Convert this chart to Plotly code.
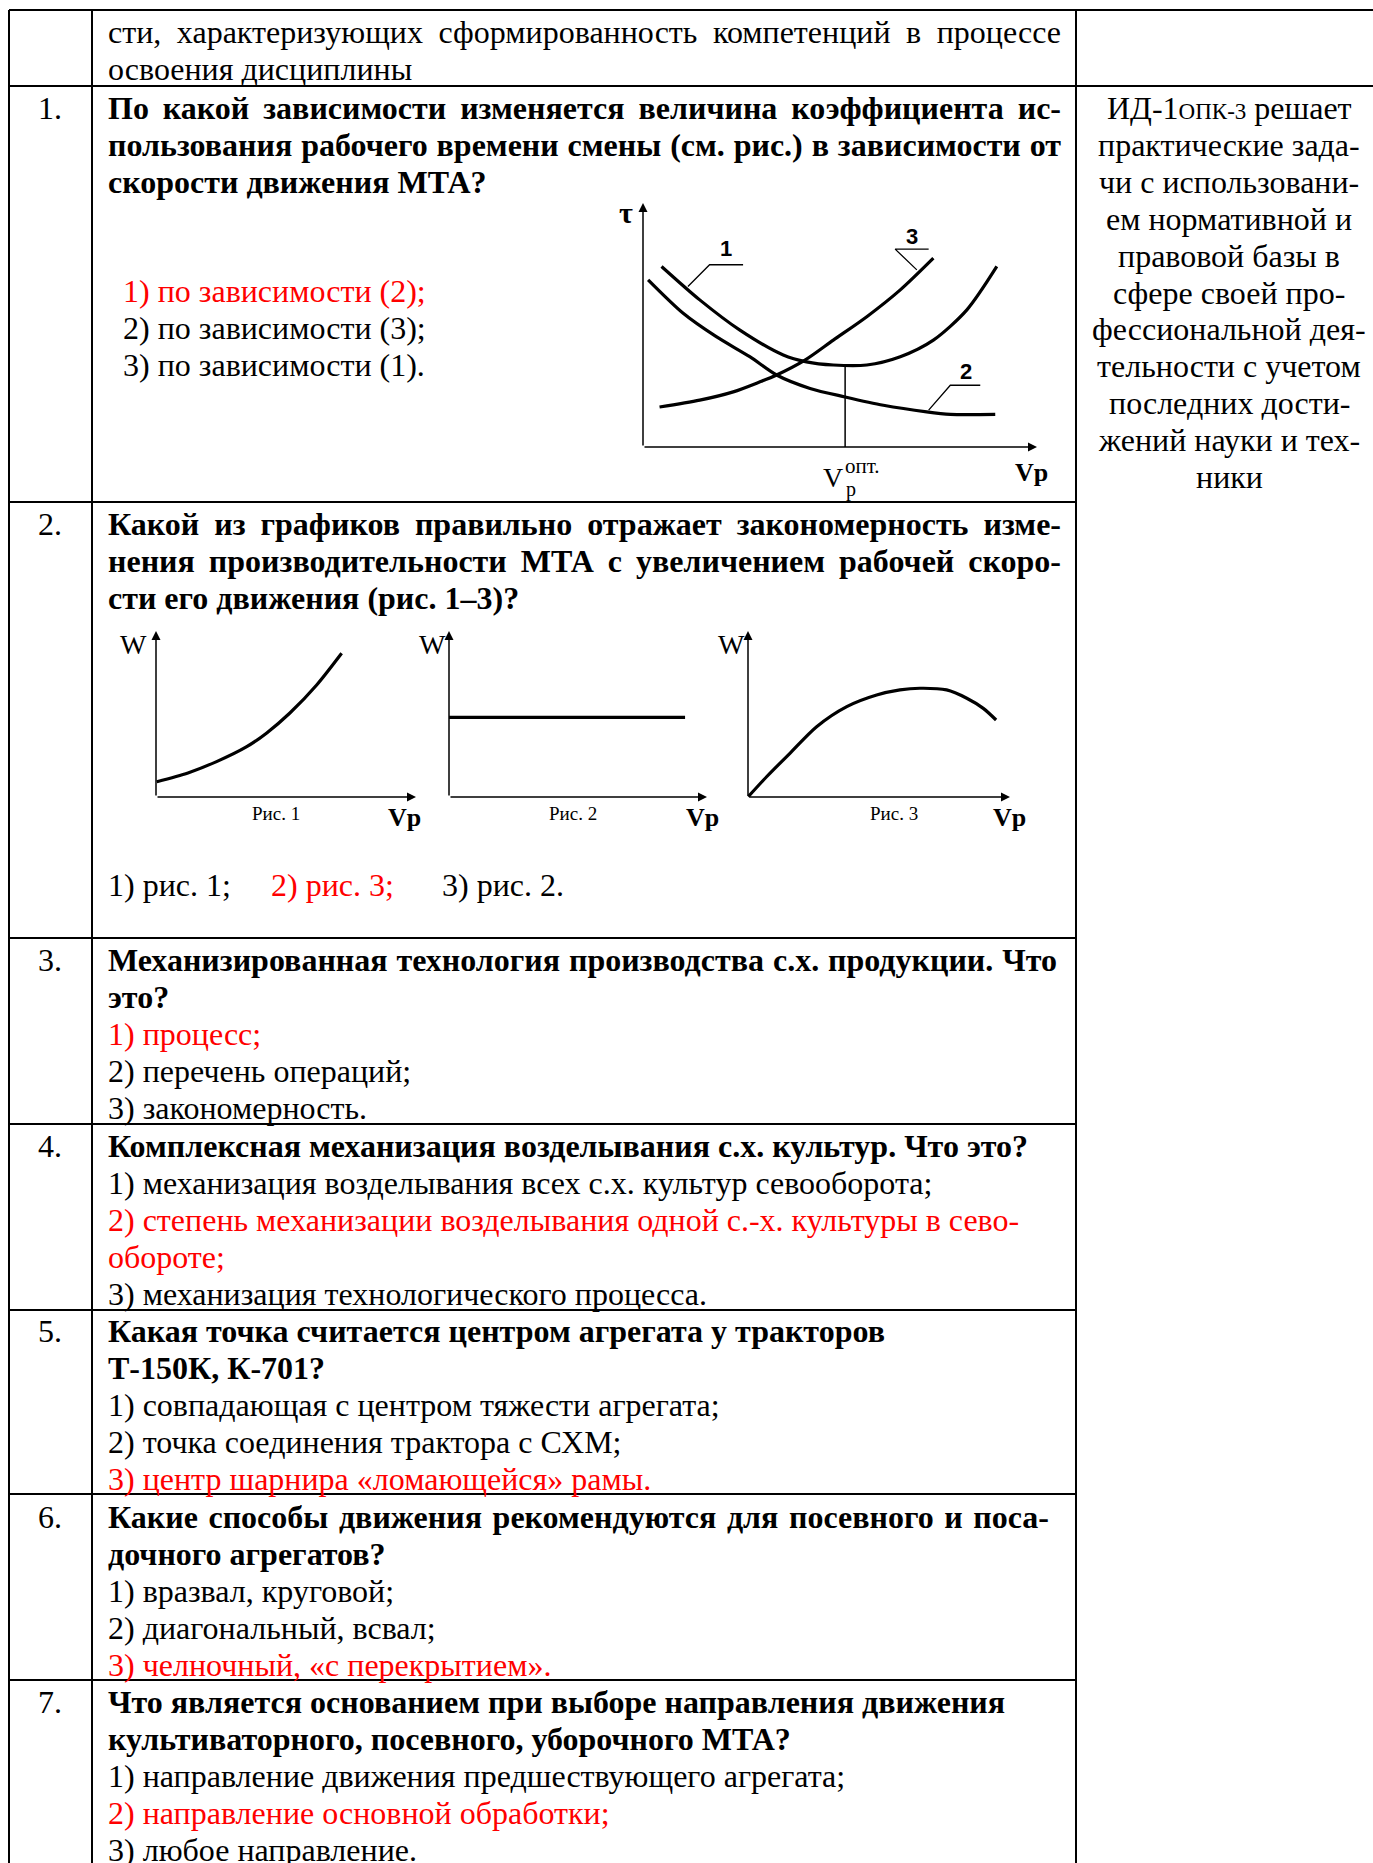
import json
import plotly.graph_objects as go

# page size in px, the figure is laid out as a scanned page
W, H = 1373, 1863
FONT = "Liberation Serif"
SZ = 32
LH = 36.9
RED = "#ff0000"

# --- chart for question 1: tau vs Vp (three dependencies) ---
tau_v1 = [0.47, 1.44, 2.46, 3.56, 4.15, 4.83, 5.68, 6.53, 7.37, 8.22, 8.98]
tau_1 = [7.40, 6.03, 4.79, 3.77, 3.49, 3.36, 3.36, 3.70, 4.38, 5.62, 7.40]
tau_v2 = [0.13, 1.02, 1.86, 2.71, 3.39, 4.24, 5.13, 6.10, 7.20, 7.80, 8.94]
tau_2 = [6.85, 5.48, 4.52, 3.70, 2.95, 2.40, 2.05, 1.71, 1.44, 1.34, 1.34]
tau_v3 = [0.42, 1.44, 2.29, 2.97, 3.39, 4.11, 4.83, 5.68, 6.53, 7.37]
tau_3 = [1.64, 1.92, 2.26, 2.67, 2.95, 3.56, 4.38, 5.34, 6.44, 7.74]
v_opt = 5.13
tau_min = 3.36
lead1_x, lead1_y = [1.14, 1.69, 2.54], [6.58, 7.47, 7.47]
lead2_x, lead2_y = [7.25, 7.80, 8.56], [1.51, 2.53, 2.53]
lead3_x, lead3_y = [6.95, 6.40, 7.25], [7.26, 8.11, 8.11]
curve_labels = ["1", "2", "3"]
label_x = [2.10, 8.20, 6.82]
label_y = [8.15, 3.08, 8.62]

# --- charts for question 2: W vs Vp ---
w1_v = [0.03, 1.23, 2.33, 3.49, 4.26, 5.15, 6.18, 7.14]
w1 = [0.92, 1.45, 2.13, 3.03, 3.86, 5.06, 6.75, 8.66]
w2_v = [0.0, 9.15]
w2 = [4.80, 4.80]
w3_v = [0.01, 0.71, 1.60, 2.62, 3.77, 4.91, 5.80, 6.56, 7.58, 8.35, 8.98, 9.47]
w3 = [0.02, 1.22, 2.63, 4.23, 5.44, 6.14, 6.45, 6.55, 6.45, 5.95, 5.34, 4.64]
fig_names = ["Рис. 1", "Рис. 2", "Рис. 3"]

# --- table text ---
header_lines = ["сти, характеризующих сформированность компетенций в процессе",
                "освоения дисциплины"]
q_nums = ["1.", "2.", "3.", "4.", "5.", "6.", "7."]
questions = [
    ["По какой зависимости изменяется величина коэффициента ис-",
     "пользования рабочего времени смены (см. рис.) в зависимости от",
     "скорости движения МТА?"],
    ["Какой из графиков правильно отражает закономерность изме-",
     "нения производительности МТА с увеличением рабочей скоро-",
     "сти его движения (рис. 1–3)?"],
    ["Механизированная технология производства с.х. продукции. Что",
     "это?"],
    ["Комплексная механизация возделывания с.х. культур. Что это?"],
    ["Какая точка считается центром агрегата у тракторов",
     "Т-150К, К-701?"],
    ["Какие способы движения рекомендуются для посевного и поса-",
     "дочного агрегатов?"],
    ["Что является основанием при выборе направления движения",
     "культиваторного, посевного, уборочного МТА?"],
]
# right edge (px) of justified question lines, None = not justified
q_right = [[1061, 1061, None], [1061, 1061, None], [1057, None], [None],
           [None, None], [1049, None], [None, None]]
# (text, is_correct)
answers = [
    [("1) по зависимости (2);", True), ("2) по зависимости (3);", False),
     ("3) по зависимости (1).", False)],
    [("1) рис. 1;", False), ("2) рис. 3;", True), ("3) рис. 2.", False)],
    [("1) процесс;", True), ("2) перечень операций;", False),
     ("3) закономерность.", False)],
    [("1) механизация возделывания всех с.х. культур севооборота;", False),
     ("2) степень механизации возделывания одной с.-х. культуры в сево-", True),
     ("обороте;", True), ("3) механизация технологического процесса.", False)],
    [("1) совпадающая с центром тяжести агрегата;", False),
     ("2) точка соединения трактора с СХМ;", False),
     ("3) центр шарнира «ломающейся» рамы.", True)],
    [("1) вразвал, круговой;", False), ("2) диагональный, всвал;", False),
     ("3) челночный, «с перекрытием».", True)],
    [("1) направление движения предшествующего агрегата;", False),
     ("2) направление основной обработки;", True),
     ("3) любое направление.", False)],
]
indicator_lines = ["ИД-1<span style='font-size:23px'>ОПК-3</span> решает",
                   "практические зада-", "чи с использовани-", "ем нормативной и",
                   "правовой базы в", "сфере своей про-", "фессиональной дея-",
                   "тельности с учетом", "последних дости-", "жений науки и тех-",
                   "ники"]


def px(x):
    return x / W


def py(y):
    return 1 - y / H


annotations = []
shapes = []
justify = []


def txt(x, y, s, size=SZ, color="black", anchor="left", family=FONT, right=None):
    annotations.append(dict(x=px(x), y=py(y), xref="paper", yref="paper", text=s,
                            showarrow=False, xanchor=anchor, yanchor="middle",
                            align="left" if anchor == "left" else "center",
                            font=dict(family=family, size=size, color=color)))
    if right is not None:
        justify.append([len(annotations) - 1, right - x - 2])


# table grid
for y, x0, x1 in [(10, 9, W), (86, 9, W), (502, 9, 1076), (938, 9, 1076),
                  (1124, 9, 1076), (1310, 9, 1076), (1494, 9, 1076), (1680, 9, 1076)]:
    shapes.append(dict(type="line", xref="paper", yref="paper", x0=px(x0), x1=px(x1),
                       y0=py(y), y1=py(y), line=dict(color="black", width=2)))
for x in [9, 92, 1076]:
    shapes.append(dict(type="line", xref="paper", yref="paper", x0=px(x), x1=px(x),
                       y0=py(10), y1=py(H), line=dict(color="black", width=2)))

# text in the table
TX = 106
txt(TX, 32, header_lines[0], right=1061)
txt(TX, 32 + LH, header_lines[1])

q_top = [108, 524, 960, 1146, 1331, 1517, 1702]
for k, (num, lines) in enumerate(zip(q_nums, questions)):
    txt(50, q_top[k], num, anchor="center")
    for i, s in enumerate(lines):
        txt(TX, q_top[k] + i * LH, "<b>" + s + "</b>", right=q_right[k][i])
    if k == 0:
        for i, (s, ok) in enumerate(answers[k]):
            txt(121, 291 + i * LH, s, color=RED if ok else "black")
    elif k == 1:
        for xa, (s, ok) in zip([TX, 269, 440], answers[k]):
            txt(xa, 885, s, color=RED if ok else "black")
    else:
        y0 = q_top[k] + len(lines) * LH
        for i, (s, ok) in enumerate(answers[k]):
            txt(TX, y0 + i * LH, s, color=RED if ok else "black")

for i, s in enumerate(indicator_lines):
    txt(1229, 108 + i * LH, s, anchor="center")

# chart axes: origin px, unit px in x, unit px in y
boxes = {"": (643, 447, 39.4, 24.4), "2": (156, 797, 26.0, 16.6),
         "3": (449, 797, 25.8, 16.6), "4": (748, 797, 26.2, 16.6)}
layout_axes = {}
for k, (ox, oy, ux, uy) in boxes.items():
    layout_axes["xaxis" + k] = dict(domain=[px(ox - 0.5 * ux), px(ox + 10.5 * ux)],
                                    range=[-0.5, 10.5], visible=False,
                                    anchor="y" + k, fixedrange=True)
    layout_axes["yaxis" + k] = dict(domain=[py(oy + 0.5 * uy), py(oy - 10.5 * uy)],
                                    range=[-0.5, 10.5], visible=False,
                                    anchor="x" + k, fixedrange=True)
    for tx, ty in [(10, 0), (0, 10)]:
        annotations.append(dict(x=tx, y=ty, ax=0, ay=0, xref="x" + k, yref="y" + k,
                                axref="x" + k, ayref="y" + k, text="", showarrow=True,
                                arrowhead=2, arrowsize=1.2, arrowwidth=1.5,
                                arrowcolor="black"))

fig = go.Figure()


def line(x, y, xa="x", ya="y", w=3.2, spline=True):
    fig.add_trace(go.Scatter(x=x, y=y, mode="lines", xaxis=xa, yaxis=ya,
                             line=dict(color="black", width=w,
                                       shape="spline" if spline else "linear",
                                       smoothing=0.8),
                             hoverinfo="skip", showlegend=False))


line(tau_v1, tau_1)
line(tau_v2, tau_2)
line(tau_v3, tau_3)
line([v_opt, v_opt], [0, tau_min], w=1.5, spline=False)
for lx, ly in [(lead1_x, lead1_y), (lead2_x, lead2_y), (lead3_x, lead3_y)]:
    line(lx, ly, w=1.3, spline=False)
for s, lx, ly in zip(curve_labels, label_x, label_y):
    annotations.append(dict(x=lx, y=ly, xref="x", yref="y", text="<b>" + s + "</b>",
                            showarrow=False, font=dict(family="Liberation Sans",
                                                       size=22, color="black")))

line(w1_v, w1, "x2", "y2")
line(w2_v, w2, "x3", "y3", spline=False)
line(w3_v, w3, "x4", "y4")

# axis captions
txt(617, 212, "<b>τ</b>", size=30)
txt(1013, 472, "<b>Vp</b>", size=26)
txt(821, 477, "V", size=28)
txt(844, 489, "р", size=20)
txt(843, 466, "опт.", size=21)
for xw in [133, 432, 731]:
    txt(xw, 644, "W", size=28, anchor="center")
for xr, name in zip([276, 573, 894], fig_names):
    txt(xr, 814, name, size=19, anchor="center")
for xv in [386, 684, 991]:
    txt(xv, 818, "<b>Vp</b>", size=26)

fig.update_layout(width=W, height=H, margin=dict(l=0, r=0, t=0, b=0),
                  paper_bgcolor="white", plot_bgcolor="rgba(0,0,0,0)",
                  shapes=shapes, annotations=annotations, **layout_axes)

# justified lines of the original document: widen the word spacing in the browser
js = """
document.body.style.margin = '0';
var JUST = %s;
function justifyLines() {
  var gd = document.getElementById('{plot_id}');
  JUST.forEach(function (p) {
    var t = gd.querySelector('g.annotation[data-index="' + p[0] + '"] text.annotation-text');
    if (!t) return;
    t.style.wordSpacing = '0px';
    var w = t.getComputedTextLength();
    var n = (t.textContent.match(/ /g) || []).length;
    if (n > 0 && p[1] > w) t.style.wordSpacing = ((p[1] - w) / n) + 'px';
  });
}
justifyLines();
setTimeout(justifyLines, 200);
setTimeout(justifyLines, 1000);
""" % json.dumps(justify)

fig.write_html("out.html", config={"displayModeBar": False}, post_script=js)
